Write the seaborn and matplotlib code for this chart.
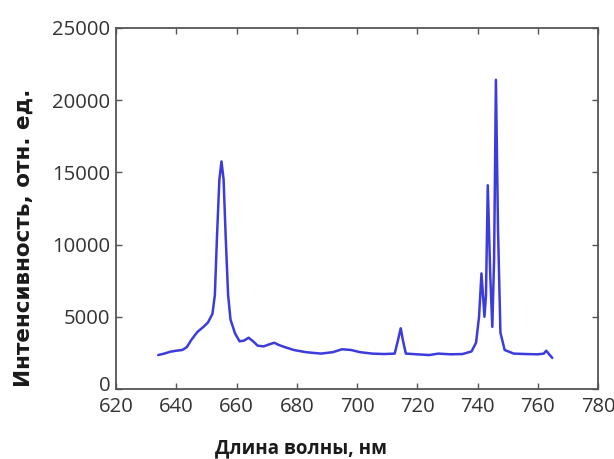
import matplotlib
matplotlib.use("Agg")
import matplotlib.pyplot as plt
import matplotlib.transforms as mtransforms
import seaborn as sns
import pandas as pd

wavelength = [634, 636, 638, 640, 642, 643.5, 645, 647, 649, 650.5, 652, 652.8, 653.5, 654.3, 655,
              655.7, 656.4, 657.2, 658, 659.5, 661, 662.5, 664, 665.5, 667, 669, 671, 672.5, 674,
              676, 679, 683, 688, 692, 695, 698, 701, 705, 709, 712.5, 713.5, 714.5, 715.3, 716.2,
              720, 724, 727, 731, 735, 738, 739.5, 740.5, 741.3, 742.3, 742.8, 743.4, 744.2, 744.9,
              745.5, 746.1, 746.8, 747.6, 749, 752, 756, 760, 762, 762.8, 763.6, 764.8]
intensity = [2350, 2450, 2580, 2650, 2700, 2900, 3400, 3950, 4300, 4600, 5200, 6500, 10500, 14500, 15750,
             14500, 10500, 6500, 4800, 3850, 3300, 3350, 3550, 3300, 3000, 2950, 3100, 3200, 3050,
             2900, 2700, 2550, 2450, 2550, 2750, 2700, 2550, 2450, 2420, 2450, 3300, 4200, 3300, 2450,
             2400, 2350, 2450, 2400, 2420, 2600, 3200, 5000, 8000, 5000, 6500, 14100, 8000, 4300,
             9000, 21400, 11000, 3900, 2700, 2450, 2420, 2400, 2450, 2650, 2450, 2150]

x_ticks = [620, 640, 660, 680, 700, 720, 740, 760, 780]
y_ticks = [0, 5000, 10000, 15000, 20000, 25000]

sns.set_style("ticks")
plt.rcParams['font.family'] = ['Open Sans', 'DejaVu Sans']
plt.rcParams['xtick.direction'] = 'in'
plt.rcParams['ytick.direction'] = 'in'

df = pd.DataFrame({"wl": wavelength, "I": intensity})

fig = plt.figure(figsize=(6.14, 4.59), dpi=100)
ax = fig.add_axes([0.189, 0.1525, 0.785, 0.787])
sns.lineplot(data=df, x="wl", y="I", ax=ax, color="#3c3cdc", linewidth=1.8)

ax.set_xlim(620, 780)
ax.set_ylim(0, 25000)
ax.set_xticks(x_ticks)
ax.set_yticks(y_ticks)
ax.tick_params(axis='both', which='both', direction='in', top=True, right=True,
               length=4, width=1, color='#555555', labelsize=14.6, labelcolor='#333333')
ax.tick_params(axis='x', pad=6)
ax.tick_params(axis='y', pad=4)
for s in ax.spines.values():
    s.set_color('#555555')
    s.set_linewidth(1.3)

# nudge the "0" label slightly upward as in the reference
zero_tick = ax.yaxis.get_major_ticks()[0]
zero_tick.label1.set_transform(zero_tick.label1.get_transform() +
                               mtransforms.ScaledTranslation(0, 4 / 72, fig.dpi_scale_trans))

ax.set_xlabel("Длина волны, нм", fontsize=13.5, fontweight='bold', color='#1a1a1a')
ax.set_ylabel("Интенсивность, отн. ед.", fontsize=15.5, fontweight='bold',
              family=['DejaVu Sans'], color='#1a1a1a')
ax.xaxis.set_label_coords(0.384, -0.138)
ax.yaxis.set_label_coords(-0.170, 0.418)

fig.savefig("out.png", dpi=100)
